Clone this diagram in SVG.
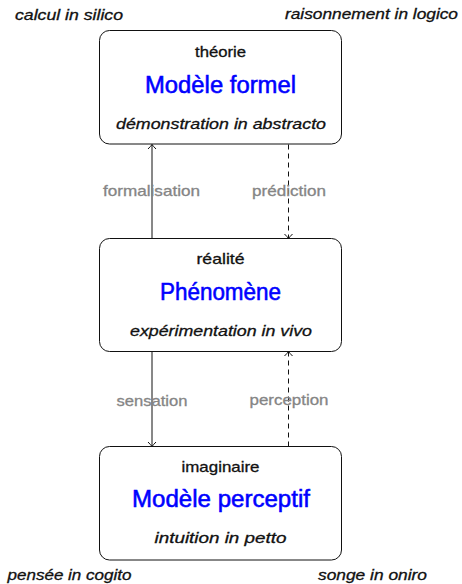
<svg xmlns="http://www.w3.org/2000/svg" width="462" height="584" viewBox="0 0 462 584">
  <style>
    text { font-family: "Liberation Sans", "DejaVu Sans", sans-serif; fill: #111; stroke: #111; stroke-width: 0.3; }
    .box { fill: #fff; stroke: #111; stroke-width: 1; }
    .small { font-size: 14.5px; text-anchor: middle; }
    .title { font-size: 23.5px; fill: #0000ff; stroke: #0000ff; stroke-width: 0.55; text-anchor: middle; }
    .ital { font-size: 14.5px; font-style: italic; text-anchor: middle; }
    .corner { font-size: 14.5px; font-style: italic; }
    .edge-label { font-size: 14.5px; fill: #858585; stroke: #858585; text-anchor: middle; }
    .link { stroke: #111; stroke-width: 1; fill: none; }
    .dashed { stroke-dasharray: 5 4; }
  </style>
  <defs>
    <marker id="tip" viewBox="-6 -6 8 12" markerWidth="8" markerHeight="12" refX="0" refY="0" orient="auto" markerUnits="userSpaceOnUse">
      <path d="M-4.5,-4 Q-1.5,-1 0,0 Q-1.5,1 -4.5,4" fill="none" stroke="#111" stroke-width="1"/>
    </marker>
  </defs>

  <!-- corner captions -->
  <text class="corner" x="15" y="19.5" textLength="108" lengthAdjust="spacingAndGlyphs">calcul in silico</text>
  <text class="corner" x="285" y="18.5" textLength="173" lengthAdjust="spacingAndGlyphs">raisonnement in logico</text>
  <text class="corner" x="7.5" y="580" textLength="124" lengthAdjust="spacingAndGlyphs">pensée in cogito</text>
  <text class="corner" x="318" y="580" textLength="109" lengthAdjust="spacingAndGlyphs">songe in oniro</text>

  <!-- connectors -->
  <g id="connectors">
    <line class="link" x1="152" y1="238.5" x2="152" y2="144.5" marker-end="url(#tip)"/>
    <line class="link dashed" x1="288.5" y1="144.5" x2="288.5" y2="238.5" marker-end="url(#tip)"/>
    <line class="link" x1="152" y1="351.5" x2="152" y2="446.5" marker-end="url(#tip)"/>
    <line class="link dashed" x1="288.5" y1="446.5" x2="288.5" y2="351.5" marker-end="url(#tip)"/>
    <text class="edge-label" x="151.5" y="196" textLength="97" lengthAdjust="spacingAndGlyphs">formalisation</text>
    <text class="edge-label" x="289" y="196" textLength="74" lengthAdjust="spacingAndGlyphs">prédiction</text>
    <text class="edge-label" x="152" y="405.5" textLength="71" lengthAdjust="spacingAndGlyphs">sensation</text>
    <text class="edge-label" x="289" y="404.5" textLength="79" lengthAdjust="spacingAndGlyphs">perception</text>
  </g>

  <!-- theory -->
  <g id="modele-formel">
    <rect class="box" x="99.5" y="30.5" width="242" height="113.5" rx="10"/>
    <text class="small" x="220.5" y="57" textLength="51" lengthAdjust="spacingAndGlyphs">théorie</text>
    <text class="title" x="220.5" y="93" textLength="151" lengthAdjust="spacingAndGlyphs">Modèle formel</text>
    <text class="ital" x="221" y="128.5" textLength="210" lengthAdjust="spacingAndGlyphs">démonstration in abstracto</text>
  </g>

  <!-- reality -->
  <g id="phenomene">
    <rect class="box" x="99.5" y="238.5" width="242" height="113" rx="10"/>
    <text class="small" x="220.5" y="264" textLength="48" lengthAdjust="spacingAndGlyphs">réalité</text>
    <text class="title" x="220.5" y="300" textLength="121" lengthAdjust="spacingAndGlyphs">Phénomène</text>
    <text class="ital" x="221" y="336" textLength="182" lengthAdjust="spacingAndGlyphs">expérimentation in vivo</text>
  </g>

  <!-- imagination -->
  <g id="modele-perceptif">
    <rect class="box" x="99.5" y="446.5" width="242" height="113.5" rx="10"/>
    <text class="small" x="220.5" y="472" textLength="78" lengthAdjust="spacingAndGlyphs">imaginaire</text>
    <text class="title" x="221" y="507" textLength="178" lengthAdjust="spacingAndGlyphs">Modèle perceptif</text>
    <text class="ital" x="220.5" y="543" textLength="132" lengthAdjust="spacingAndGlyphs">intuition in petto</text>
  </g>
</svg>
